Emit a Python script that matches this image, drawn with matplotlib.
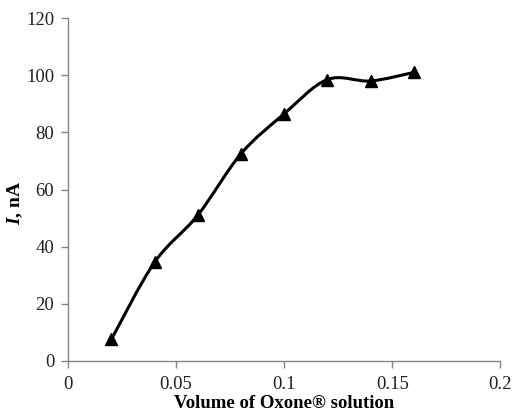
import matplotlib
matplotlib.use("Agg")
import matplotlib.pyplot as plt
from matplotlib.path import Path
from matplotlib.patches import PathPatch
import numpy as np

# Data
volume = [0.02, 0.04, 0.06, 0.08, 0.10, 0.12, 0.14, 0.16]
current = [7.5, 34.5, 51.0, 72.5, 86.5, 98.5, 98.0, 101.0]

x_ticks = [0, 0.05, 0.1, 0.15, 0.2]
x_tick_labels = ["0", "0.05", "0.1", "0.15", "0.2"]
y_ticks = [0, 20, 40, 60, 80, 100, 120]


def smooth_path(xs, ys):
    """Excel-like smoothed line: Catmull-Rom segments as cubic Bezier curves"""
    pts = np.column_stack([xs, ys])
    verts = [pts[0]]
    codes = [Path.MOVETO]
    n = len(pts)
    for i in range(n - 1):
        p0 = pts[i - 1] if i > 0 else pts[i]
        p1 = pts[i]
        p2 = pts[i + 1]
        p3 = pts[i + 2] if i + 2 < n else pts[i + 1]
        c1 = p1 + (p2 - p0) / 6
        c2 = p2 - (p3 - p1) / 6
        verts += [c1, c2, p2]
        codes += [Path.CURVE4] * 3
    return Path(verts, codes)


plt.rcParams["font.family"] = ["Liberation Serif", "DejaVu Serif"]
plt.rcParams["mathtext.fontset"] = "custom"
plt.rcParams["mathtext.bfit"] = "Liberation Serif:italic:bold"
plt.rcParams["mathtext.it"] = "Liberation Serif:italic"
plt.rcParams["mathtext.rm"] = "Liberation Serif"

fig = plt.figure(figsize=(5.12, 4.12), dpi=100)
ax = fig.add_axes([0.133, 0.124, 0.844, 0.832])

ax.add_patch(
    PathPatch(smooth_path(volume, current), facecolor="none",
              edgecolor="black", linewidth=2.2, zorder=2)
)
ax.plot(volume, current, linestyle="none", marker="^", markersize=8.5,
        color="black", zorder=3)

ax.set_xlim(0, 0.2)
ax.set_ylim(0, 120)
ax.set_xticks(x_ticks)
ax.set_xticklabels(x_tick_labels)
ax.set_yticks(y_ticks)

axis_color = "#868686"
for side in ["top", "right"]:
    ax.spines[side].set_visible(False)
for side in ["left", "bottom"]:
    ax.spines[side].set_color(axis_color)
    ax.spines[side].set_linewidth(1.0)
ax.tick_params(direction="out", length=5, width=1.0, color=axis_color,
               labelsize=13.5, labelcolor="#222222")
ax.tick_params(axis="x", pad=6)
ax.tick_params(axis="y", pad=5)

ax.set_xlabel("Volume of Oxone\u00ae solution", fontsize=13.5,
              fontweight="bold", labelpad=1)
ax.set_ylabel(r"$\mathbfit{I}$, nA", fontsize=14, fontweight="bold",
              labelpad=-1)
ax.yaxis.set_label_coords(-0.1, 0.46)

fig.savefig("out.png", dpi=100)
